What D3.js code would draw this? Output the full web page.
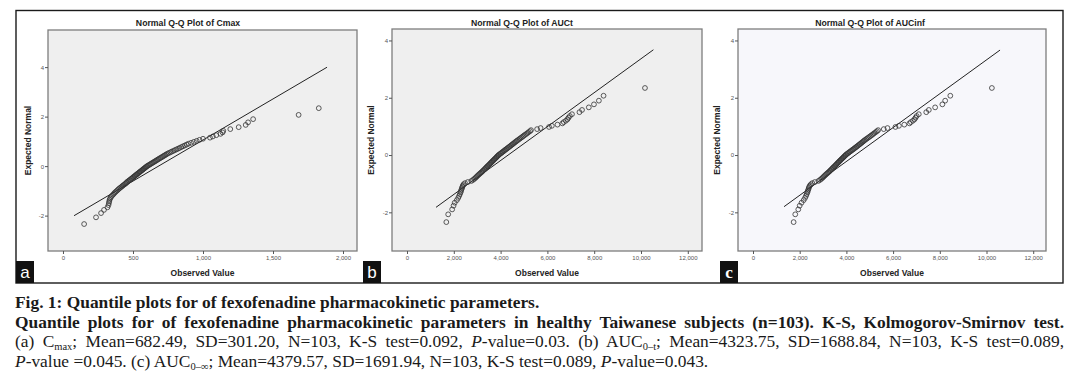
<!DOCTYPE html>
<html>
<head>
<meta charset="utf-8">
<script src="https://cdn.jsdelivr.net/npm/d3@7"></script>
<style>
  html, body { margin: 0; padding: 0; background: #fff; }
  #wrap { position: relative; width: 1078px; height: 383px; overflow: hidden; }
  svg { position: absolute; left: 0; top: 0; }
  #caption { position: absolute; left: 15px; top: 293px; width: 1049px;
    font-family: "Liberation Serif", "Times New Roman", serif; font-size: 17.4px; color: #1a1a1a; line-height: 19.5px; }
  #caption .ln { white-space: nowrap; height: 19.5px; }
  #caption .just { text-align: justify; text-align-last: justify; white-space: normal; }
  #caption b { font-weight: bold; }
  #caption sub { font-size: 10.5px; vertical-align: -3px; line-height: 0; }
</style>
</head>
<body>
<div id="wrap">
  <svg id="chart" width="1078" height="383"></svg>
  <div id="caption"></div>
</div>
<script>
// ---------------- DATA ----------------
const panelTitles = ["Normal Q-Q Plot of Cmax", "Normal Q-Q Plot of AUCt", "Normal Q-Q Plot of AUCinf"];
const panelLetters = ["a", "b", "c"];
const xAxisTitle = "Observed Value";
const yAxisTitle = "Expected Normal";

// expected normal score of each rank (n = 103)
const expectedNormal = [
  -2.341,-2.070,-1.898,-1.769,-1.664,-1.574,-1.496,-1.426,-1.362,-1.303,
  -1.249,-1.198,-1.150,-1.105,-1.061,-1.020,-0.980,-0.942,-0.905,-0.869,
  -0.834,-0.801,-0.768,-0.736,-0.705,-0.674,-0.645,-0.615,-0.586,-0.558,
  -0.530,-0.502,-0.475,-0.448,-0.422,-0.396,-0.370,-0.344,-0.319,-0.293,
  -0.268,-0.243,-0.218,-0.194,-0.169,-0.145,-0.121,-0.097,-0.072,-0.048,
  -0.024, 0.000,
  0.024,0.048,0.072,0.097,0.121,0.145,0.169,0.194,0.218,0.243,
  0.268,0.293,0.319,0.344,0.370,0.396,0.422,0.448,0.475,0.502,
  0.530,0.558,0.586,0.615,0.645,0.674,0.705,0.736,0.768,0.801,
  0.834,0.869,0.905,0.942,0.980,1.020,1.061,1.105,1.150,1.198,
  1.249,1.303,1.362,1.426,1.496,1.574,1.664,1.769,1.898,2.070,2.341
];

// observed values (sorted)
const cmaxObserved = [
  151,236,272,293,318,325,328,330,333,337,
  343,350,358,365,372,380,388,395,402,410,
  418,425,432,440,447,453,457,464,471,477,
  484,490,496,502,508,513,519,525,530,536,
  542,547,553,558,564,569,574,580,585,590,
  596,601,
  608,615,622,629,636,643,650,657,664,671,
  678,685,693,700,708,715,723,730,738,746,
  756,767,777,788,799,810,822,833,845,857,
  870,883,896,915,935,
  955,975,1000,1050,1070,1095,1125,1140,1145,1195,1255,1305,1322,1358,1683,1827
];
const auctObserved = [
  1680,1760,1930,1990,2040,2130,2190,2230,2260,2290,
  2310,2330,2350,2370,2390,2420,2480,2600,2750,2820,
  2870,2920,2960,3000,3040,3080,3120,3160,3200,3235,
  3270,3310,3340,3370,3400,3435,3465,3500,3530,3560,
  3590,3620,3650,3680,3710,3740,3770,3800,3830,3855,
  3885,3914,
  3950,3990,4030,4070,4105,4145,4180,4220,4260,4300,
  4340,4380,4420,4460,4500,4540,4580,4620,4665,4705,
  4750,4800,4845,4895,4945,4990,5040,5095,5150,5200,
  5260,5300,5560,5710,6070,
  6190,6430,6640,6700,6790,6860,6900,6960,7050,7370,7480,7770,7990,8200,8400,10170
];
const aucinfObserved = [
  1740,1810,1940,2000,2080,2170,2230,2270,2300,2330,
  2350,2370,2390,2410,2440,2480,2540,2650,2800,2870,
  2920,2970,3010,3050,3090,3130,3170,3210,3250,3290,
  3320,3360,3390,3420,3450,3490,3520,3550,3580,3610,
  3640,3670,3700,3730,3760,3790,3820,3850,3880,3910,
  3940,3970,
  4000,4040,4080,4120,4160,4200,4240,4280,4320,4360,
  4400,4440,4480,4520,4560,4600,4640,4680,4720,4760,
  4800,4850,4900,4950,5000,5050,5100,5150,5200,5260,
  5310,5360,5600,5760,6100,
  6250,6480,6700,6760,6850,6920,6960,7010,7100,7420,7530,7800,8110,8230,8450,10230
];

const means = [682.49, 4323.75, 4379.57];
const sds = [301.20, 1688.84, 1691.94];
const lineExtents = [[79, 1886], [1240, 10530], [1330, 10580]];
const xTicksA = [0, 500, 1000, 1500, 2000];
const xTicksBC = [0, 2000, 4000, 6000, 8000, 10000, 12000];
const yTicksA = [-2, 0, 2, 4];
const yTicksBC = [-2, 0, 2, 4];

// ---------------- LAYOUT ----------------
const svg = d3.select("#chart");
const panels = [
  { obs: cmaxObserved, xTicks: xTicksA, yTicks: yTicksA, l: 48, t: 30, r: 357, b: 251,
    xDom: [-107, 2100], yDom: [-3.43, 5.5], bg: "#efefef", titleX: 188, letterX: 16, yTitleX: 28, letterFont: "Liberation Sans, Arial, sans-serif", letterWeight: "normal" },
  { obs: auctObserved, xTicks: xTicksBC, yTicks: yTicksBC, l: 392, t: 29, r: 702, b: 251,
    xDom: [-641, 12607], yDom: [-3.35, 4.4], bg: "#efefef", titleX: 522, letterX: 363, yTitleX: 371, letterFont: "Liberation Sans, Arial, sans-serif", letterWeight: "normal" },
  { obs: aucinfObserved, xTicks: xTicksBC, yTicks: yTicksBC, l: 738, t: 29, r: 1046, b: 251,
    xDom: [-642, 12548], yDom: [-3.35, 4.4], bg: "#f7f7fb", titleX: 870, letterX: 720, yTitleX: 717, letterFont: "Liberation Serif, serif", letterWeight: "bold" }
];

// outer frame
svg.append("rect").attr("x", 16).attr("y", 10.5).attr("width", 1047).attr("height", 272.5)
  .attr("fill", "none").attr("stroke", "#1a1a1a").attr("stroke-width", 1.4);

const fmtY = d => (d < 0 ? "-" : "") + Math.abs(d);
const fmtX = d3.format(",");

panels.forEach((p, i) => {
  const g = svg.append("g");
  const x = d3.scaleLinear().domain(p.xDom).range([p.l, p.r]);
  const y = d3.scaleLinear().domain(p.yDom).range([p.b, p.t]);

  g.append("rect").attr("x", p.l).attr("y", p.t).attr("width", p.r - p.l).attr("height", p.b - p.t)
    .attr("fill", p.bg).attr("stroke", "#7d7d7d").attr("stroke-width", 1.3);

  const ax = g.append("g").attr("transform", `translate(0,${p.b})`)
    .call(d3.axisBottom(x).tickValues(p.xTicks).tickFormat(fmtX).tickSize(3).tickPadding(2));
  const ay = g.append("g").attr("transform", `translate(${p.l},0)`)
    .call(d3.axisLeft(y).tickValues(p.yTicks).tickFormat(fmtY).tickSize(3).tickPadding(1));
  [ax, ay].forEach(a => {
    a.select(".domain").remove();
    a.selectAll("line").attr("stroke", "#555").attr("stroke-width", 1);
    a.selectAll("text").attr("fill", "#555").style("font-family", "Liberation Sans, Arial, sans-serif").style("font-size", "6px");
  });

  // reference line
  const ext = lineExtents[i];
  g.append("line")
    .attr("x1", x(ext[0])).attr("y1", y((ext[0] - means[i]) / sds[i]))
    .attr("x2", x(ext[1])).attr("y2", y((ext[1] - means[i]) / sds[i]))
    .attr("stroke", "#222").attr("stroke-width", 1);

  // points
  g.selectAll("circle.pt").data(p.obs.map((v, k) => [v, expectedNormal[k]])).join("circle")
    .attr("class", "pt")
    .attr("cx", d => x(d[0])).attr("cy", d => y(d[1])).attr("r", 2.4)
    .attr("fill", "none").attr("stroke", "#333").attr("stroke-width", 0.8);

  // titles
  g.append("text").attr("x", p.titleX).attr("y", 26).attr("text-anchor", "middle")
    .style("font-family", "Liberation Sans, Arial, sans-serif").style("font-size", "8.7px").style("font-weight", "bold")
    .attr("fill", "#222").text(panelTitles[i]);
  g.append("text").attr("x", (p.l + p.r) / 2).attr("y", 276).attr("text-anchor", "middle")
    .style("font-family", "Liberation Sans, Arial, sans-serif").style("font-size", "8.5px").style("font-weight", "bold")
    .attr("fill", "#222").text(xAxisTitle);
  g.append("text").attr("transform", `translate(${p.yTitleX + 3},${(p.t + p.b) / 2})rotate(-90)`)
    .attr("text-anchor", "middle")
    .style("font-family", "Liberation Sans, Arial, sans-serif").style("font-size", "8.5px").style("font-weight", "bold")
    .attr("fill", "#222").text(yAxisTitle);

  // panel letter box
  g.append("rect").attr("x", p.letterX).attr("y", 261).attr("width", 18).attr("height", 22).attr("fill", "#111");
  g.append("text").attr("x", p.letterX + 9).attr("y", 278).attr("text-anchor", "middle")
    .style("font-family", p.letterFont).style("font-size", "17px").style("font-weight", p.letterWeight)
    .attr("fill", "#fff").text(panelLetters[i]);
});

// ---------------- CAPTION ----------------
const cap = d3.select("#caption");
cap.append("div").attr("class", "ln").html("<b>Fig. 1: Quantile plots for of fexofenadine pharmacokinetic parameters.</b>");
cap.append("div").attr("class", "ln just").html("<b>Quantile plots for of fexofenadine pharmacokinetic parameters in healthy Taiwanese subjects (n=103). K-S, Kolmogorov-Smirnov test.</b>");
cap.append("div").attr("class", "ln just").html("(a) C<sub>max</sub>; Mean=682.49, SD=301.20, N=103, K-S test=0.092, <i>P</i>-value=0.03. (b) AUC<sub>0–t</sub>; Mean=4323.75, SD=1688.84, N=103, K-S test=0.089,");
cap.append("div").attr("class", "ln").html("<i>P</i>-value =0.045. (c) AUC<sub>0–∞</sub>; Mean=4379.57, SD=1691.94, N=103, K-S test=0.089, <i>P</i>-value=0.043.");
</script>
</body>
</html>
